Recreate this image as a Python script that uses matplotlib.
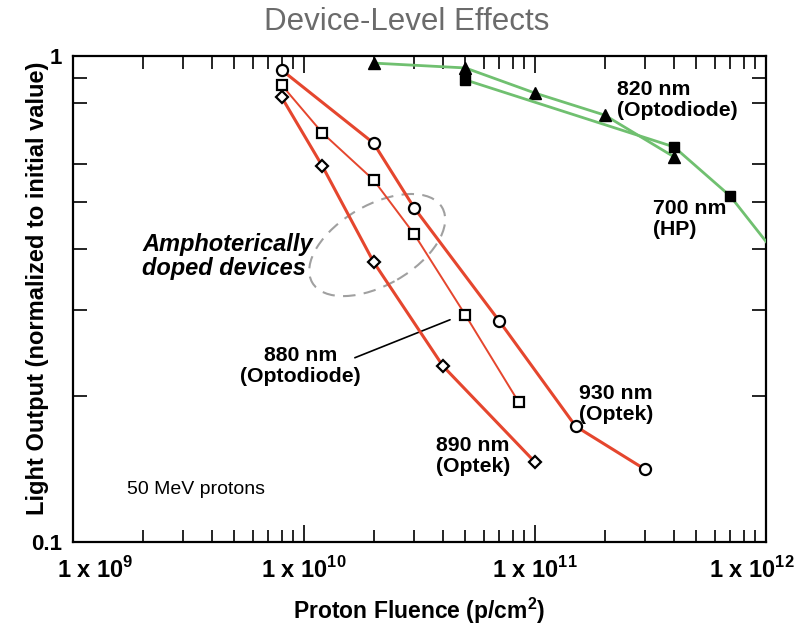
import matplotlib
matplotlib.use("Agg")
import matplotlib.pyplot as plt
from matplotlib.ticker import FixedLocator, NullFormatter, LogLocator
from matplotlib.patches import Ellipse
from matplotlib.transforms import ScaledTranslation

plt.rcParams['font.family'] = ['Liberation Sans', 'DejaVu Sans']
plt.rcParams['mathtext.fontset'] = 'custom'
plt.rcParams['mathtext.rm'] = 'Liberation Sans:bold'
plt.rcParams['mathtext.bf'] = 'Liberation Sans:bold'

# 930 nm (Optek) - circles
fl_930 = [8e9, 2e10, 3e10, 7e10, 1.5e11, 3e11]
lo_930 = [0.936, 0.662, 0.487, 0.285, 0.173, 0.141]

# 880 nm (Optodiode) - squares
fl_880 = [8e9, 1.2e10, 2e10, 3e10, 5e10, 8.5e10]
lo_880 = [0.872, 0.695, 0.556, 0.430, 0.293, 0.194]

# 890 nm (Optek) - diamonds
fl_890 = [8e9, 1.2e10, 2e10, 4e10, 1e11]
lo_890 = [0.823, 0.594, 0.377, 0.230, 0.146]

# 820 nm (Optodiode) - filled triangles
fl_820 = [2e10, 5e10, 1e11, 2e11, 4e11]
lo_820 = [0.967, 0.945, 0.839, 0.756, 0.62]

# 700 nm (HP) - filled squares (last point beyond the axis)
fl_700 = [5e10, 4e11, 7e11, 1.2e12]
lo_700 = [0.893, 0.65, 0.515, 0.372]

x_ticks = [1e9, 1e10, 1e11, 1e12]
x_ticklabels = ['1 x 10$^{9}$', '1 x 10$^{10}$', '1 x 10$^{11}$', '1 x 10$^{12}$']
y_ticks = [0.1, 1]
y_ticklabels = ['0.1', '1']
y_minor = [0.2, 0.3, 0.4, 0.5, 0.6, 0.8, 0.9]

red = '#e5462e'
green = '#70c070'

fig = plt.figure(figsize=(8.01, 6.3), dpi=100)
ax = fig.add_axes([0.0911, 0.1397, 0.8652, 0.7714])

ax.plot(fl_820, lo_820, '-^', color=green, lw=2, ms=8, mfc='black', mec='black', zorder=3)
ax.plot(fl_700, lo_700, '-s', color=green, lw=2, ms=7.5, mfc='black', mec='black', zorder=3)

ax.plot(fl_930, lo_930, '-o', color=red, lw=2.2, ms=8, mfc='white', mec='black', mew=1.6, zorder=4)
ax.plot(fl_880, lo_880, '-s', color=red, lw=1.4, ms=7, mfc='white', mec='black', mew=1.6, zorder=4)
ax.plot(fl_890, lo_890, '-D', color=red, lw=2.2, ms=6.5, mfc='white', mec='black', mew=1.6, zorder=4)

ax.set_xscale('log')
ax.set_yscale('log')
ax.set_xlim(1e9, 1e12)
ax.set_ylim(0.1, 1)

ax.set_xticks(x_ticks)
ax.set_xticklabels(x_ticklabels, fontsize=17, fontweight='bold')
ax.xaxis.set_minor_locator(LogLocator(base=10, subs=range(2, 10)))
ax.xaxis.set_minor_formatter(NullFormatter())
ax.set_yticks(y_ticks)
ax.set_yticklabels(y_ticklabels, fontsize=16, fontweight='bold')
ax.yaxis.set_minor_locator(FixedLocator(y_minor))
ax.yaxis.set_minor_formatter(NullFormatter())

ax.tick_params(which='both', direction='in', top=True, right=True, width=1.2)
ax.tick_params(axis='x', which='major', length=12, pad=11)
ax.tick_params(axis='x', which='minor', length=9)
ax.tick_params(axis='y', which='major', length=0, pad=8)
ax.tick_params(axis='y', which='minor', length=10)
for s in ax.spines.values():
    s.set_linewidth(1.6)

# nudge the end labels inward like the original
lbls = ax.get_xticklabels()
lbls[0].set_transform(lbls[0].get_transform() + ScaledTranslation(0.22, 0, fig.dpi_scale_trans))
lbls[-1].set_transform(lbls[-1].get_transform() + ScaledTranslation(-0.14, 0, fig.dpi_scale_trans))

ax.set_xlabel('Proton Fluence (p/cm$^{2}$)', fontsize=16.5, fontweight='bold', labelpad=9)
ax.set_ylabel('Light Output (normalized to initial value)', fontsize=17, fontweight='bold')
ax.yaxis.set_label_coords(-0.034, 0.523)
fig.text(0.508, 0.965, 'Device-Level Effects', ha='center', va='center', fontsize=22.5, color='#6b6b6b')

# labels
lab = dict(fontsize=15.3, fontweight='bold', transform=ax.transAxes, linespacing=1.1)
ax.text(0.785, 0.909, '820 nm\n(Optodiode)', ha='left', va='center', **lab)
ax.text(0.837, 0.665, '700 nm\n(HP)', ha='left', va='center', **lab)
ax.text(0.784, 0.284, '930 nm\n(Optek)', ha='center', va='center', **lab)
ax.text(0.577, 0.177, '890 nm\n(Optek)', ha='center', va='center', **lab)
ax.text(0.328, 0.362, '880 nm\n(Optodiode)', ha='center', va='center', **lab)
ax.annotate('', xy=(4.4e10, 0.288), xycoords='data', xytext=(0.403, 0.377), textcoords='axes fraction',
            arrowprops=dict(arrowstyle='-', color='black', lw=1.2))
ax.text(0.0996, 0.588, 'Amphoterically\ndoped devices', ha='left', va='center', fontsize=17,
        fontweight='bold', fontstyle='italic', transform=ax.transAxes, linespacing=1.05)
ax.text(0.078, 0.109, '50 MeV protons', ha='left', va='center', fontsize=14, transform=ax.transAxes)

ell = Ellipse((0, 0), 1.5, 0.8, angle=30, fill=False, ls=(0, (6, 4)), lw=1.5, ec='#a0a0a0',
              transform=fig.dpi_scale_trans + ScaledTranslation(0.439, 0.611, ax.transAxes), zorder=2)
ax.add_patch(ell)

plt.savefig('out.png', dpi=100)
